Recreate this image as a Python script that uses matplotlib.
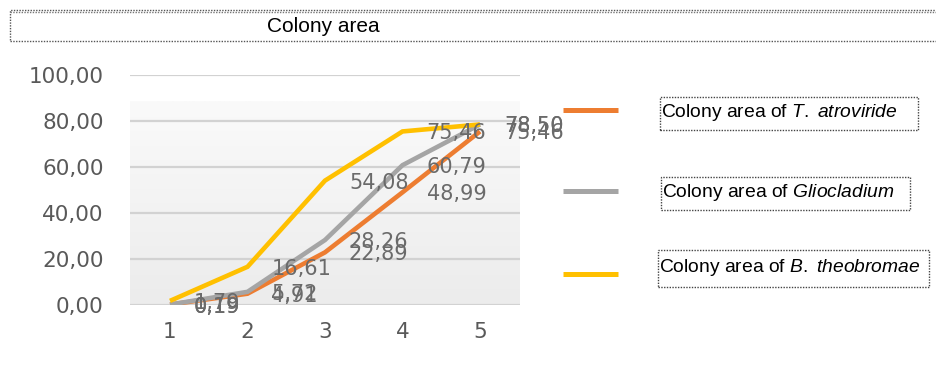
import matplotlib
matplotlib.use("Agg")
import matplotlib.pyplot as plt
import numpy as np
from matplotlib.patches import Rectangle
from matplotlib.lines import Line2D
from matplotlib.ticker import FuncFormatter
from matplotlib.colors import LinearSegmentedColormap

plt.rcParams['mathtext.fontset'] = 'custom'
plt.rcParams['mathtext.rm'] = 'Liberation Sans'
plt.rcParams['mathtext.it'] = 'Liberation Sans:italic'

# ---- data ----
categories = [1, 2, 3, 4, 5]
t_atroviride = [0.19, 4.91, 22.89, 48.99, 75.46]
gliocladium = [0.19, 5.72, 28.26, 60.79, 78.50]
b_theobromae = [1.79, 16.61, 54.08, 75.46, 78.50]
y_ticks = [0, 20, 40, 60, 80, 100]
title = "Colony area"
legend_labels = ["Colony area of $\\mathit{T.}$ $\\mathit{atroviride}$",
                 "Colony area of $\\mathit{Gliocladium}$",
                 "Colony area of $\\mathit{B.}$ $\\mathit{theobromae}$"]
colors = ["#ED7D31", "#A5A5A5", "#FFC000"]

W, H = 937, 372
fig = plt.figure(figsize=(W / 100, H / 100), dpi=100)
fig.patch.set_facecolor("white")


def fx(px):
    return px / W


def fy(py):
    return 1 - py / H


# axes placed by pixel layout
ax_l, ax_r, ax_t, ax_b = 130, 520, 75, 305
ax = fig.add_axes([fx(ax_l), fy(ax_b), (ax_r - ax_l) / W, (ax_b - ax_t) / H])
ax.set_xlim(0.484, 5.516)
ax.set_ylim(0, 100)
ax.set_facecolor("none")
for s in ax.spines.values():
    s.set_visible(False)

# gradient background of plot area
grad = np.linspace(0, 1, 100).reshape(-1, 1)
cm = LinearSegmentedColormap.from_list("g", ["#ececec", "#fafafa"])
ax.imshow(grad, extent=(0.484, 5.516, 0, 88.5), origin="lower", aspect="auto",
          cmap=cm, zorder=0)

ax.set_yticks(y_ticks)
ax.yaxis.set_major_formatter(FuncFormatter(lambda v, p: f"{v:.2f}".replace(".", ",")))
ax.set_xticks(categories)
ax.set_xticklabels([str(c) for c in categories])
ax.tick_params(axis="both", length=0, labelsize=15.5, labelcolor="#595959",
               labelfontfamily="DejaVu Sans")
ax.tick_params(axis="y", pad=19)
ax.tick_params(axis="x", pad=12)
ax.grid(axis="y", color="#d2d2d2", linewidth=1.6, zorder=1)
ax.set_axisbelow(True)

series = [t_atroviride, gliocladium, b_theobromae]
for vals, c in zip(series, colors):
    ax.plot(categories, vals, color=c, linewidth=3.3, zorder=3,
            solid_capstyle="butt", solid_joinstyle="miter")

for vals in series:
    for x, v in zip(categories, vals):
        ax.annotate(f"{v:.2f}".replace(".", ","), (x, v), xytext=(24, -2),
                    textcoords="offset pixels", ha="left", va="center",
                    fontsize=15, color="#6a6a6a", family="DejaVu Sans",
                    zorder=5, annotation_clip=False)

# title box
fig.patches.append(Rectangle((fx(10), fy(41)), fx(940) - fx(10), fy(10) - fy(41),
                             transform=fig.transFigure, fill=False,
                             edgecolor="#555555", linestyle=(0, (1, 1)), linewidth=1.0))
fig.lines.append(Line2D([fx(10), fx(937)], [fy(11.5), fy(11.5)], transform=fig.transFigure,
                        color="#777777", linestyle=(0, (1, 1)), linewidth=1.0))
fig.text(fx(323), fy(26), title, ha="center", va="center", fontsize=15,
         family="Liberation Sans", color="black")

# legend
leg_y = [110, 191, 274]
boxes = [(660, 97, 918, 130), (661, 177, 910, 210), (658, 250, 929, 287)]
for lab, c, y, (x0, y0, x1, y1) in zip(legend_labels, colors, leg_y, boxes):
    fig.lines.append(Line2D([fx(563), fx(618)], [fy(y), fy(y)], transform=fig.transFigure,
                            color=c, linewidth=3.6, solid_capstyle="butt"))
    fig.patches.append(Rectangle((fx(x0), fy(y1)), fx(x1) - fx(x0), fy(y0) - fy(y1),
                                 transform=fig.transFigure, fill=False,
                                 edgecolor="#444444", linestyle=(0, (1, 1)), linewidth=1.0))
    fig.text(fx(x0 + 1), fy((y0 + y1) / 2 - 1), lab, ha="left", va="center",
             fontsize=13.9, family="Liberation Sans", color="black")

fig.savefig("out.png", dpi=100, facecolor="white")
